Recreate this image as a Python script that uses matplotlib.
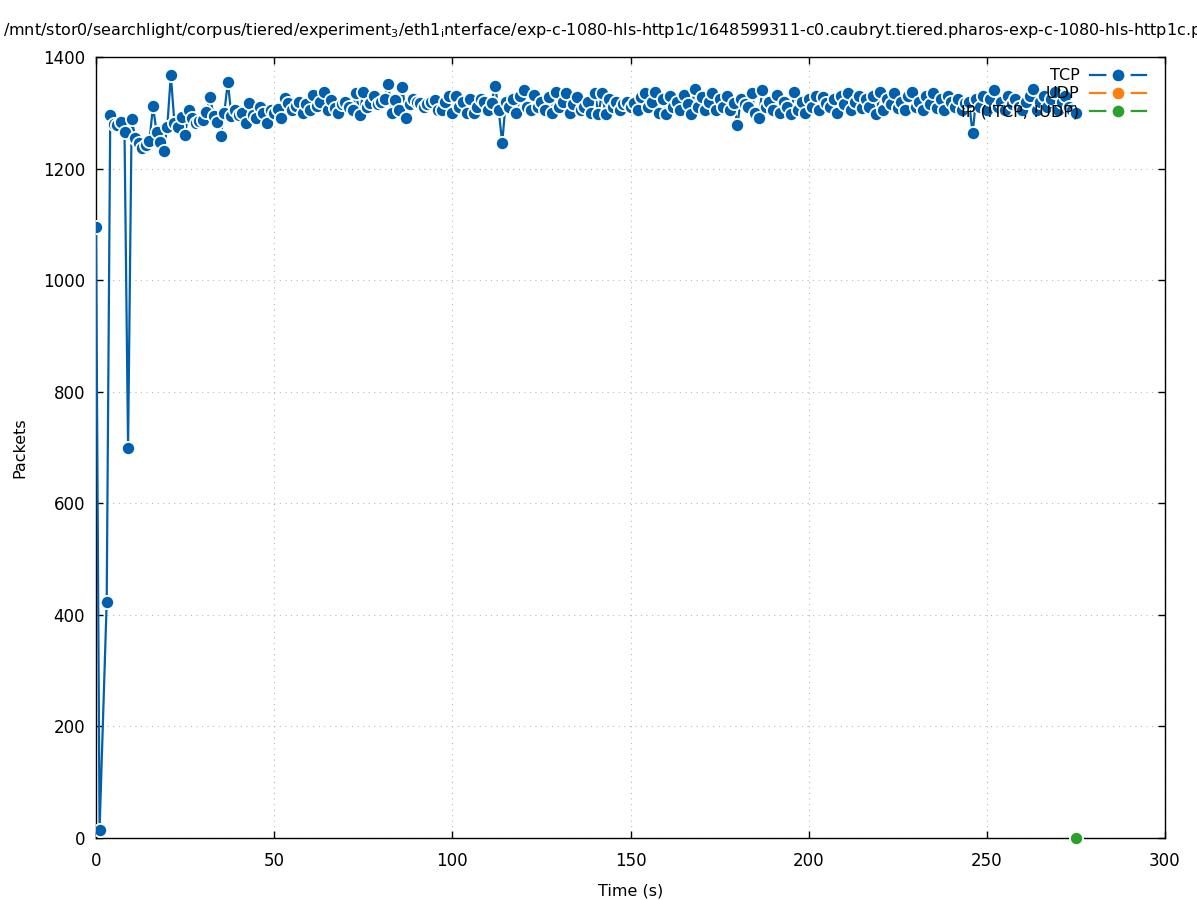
import numpy as np
import matplotlib
matplotlib.use("Agg")
import matplotlib.pyplot as plt

title = ("/mnt/stor0/searchlight/corpus/tiered/experiment$_3$/eth1$_\\mathrm{i}$nterface/"
         "exp-c-1080-hls-http1c/1648599311-c0.caubryt.tiered.pharos-exp-c-1080-hls-http1c.pcap")

# TCP packets per second
tcp_head_times = [0, 1]
tcp_head_values = [1095, 15]
tcp_start = 3  # following samples are one per second from t=3
tcp_values = [
    423, 1296, 1280, 1278, 1283, 1265, 700, 1289, 1255, 1245,
    1237, 1242, 1250, 1312, 1265, 1248, 1231, 1275, 1368, 1282,
    1274, 1292, 1260, 1305, 1290, 1282, 1285, 1287, 1301, 1328,
    1295, 1283, 1258, 1300, 1355, 1295, 1305, 1296, 1300, 1282,
    1317, 1296, 1290, 1310, 1300, 1281, 1305, 1299, 1307, 1291,
    1326, 1318, 1305, 1312, 1319, 1300, 1315, 1305, 1332, 1312,
    1320, 1337, 1305, 1323, 1308, 1300, 1315, 1320, 1310, 1305,
    1335, 1296, 1338, 1310, 1318, 1330, 1315, 1320, 1325, 1351,
    1300, 1323, 1305, 1346, 1291, 1315, 1325, 1320, 1318, 1310,
    1315, 1320, 1323, 1305, 1305, 1320, 1330, 1299, 1330, 1310,
    1320, 1300, 1325, 1299, 1310, 1325, 1320, 1305, 1318, 1348,
    1305, 1246, 1320, 1310, 1325, 1299, 1330, 1341, 1310, 1305,
    1332, 1310, 1320, 1305, 1328, 1300, 1337, 1310, 1320, 1335,
    1300, 1315, 1328, 1305, 1310, 1320, 1300, 1335, 1298, 1335,
    1298, 1325, 1310, 1320, 1305, 1315, 1320, 1310, 1318, 1305,
    1328, 1335, 1310, 1320, 1337, 1300, 1325, 1298, 1330, 1310,
    1320, 1305, 1332, 1315, 1298, 1342, 1310, 1328, 1305, 1320,
    1335, 1305, 1325, 1310, 1330, 1305, 1318, 1278, 1325, 1315,
    1310, 1335, 1300, 1290, 1341, 1310, 1320, 1305, 1332, 1300,
    1320, 1310, 1298, 1337, 1305, 1320, 1300, 1325, 1310, 1330,
    1305, 1328, 1318, 1310, 1325, 1300, 1330, 1315, 1335, 1305,
    1320, 1330, 1308, 1325, 1310, 1330, 1298, 1338, 1305, 1325,
    1315, 1335, 1308, 1320, 1305, 1330, 1338, 1310, 1320, 1305,
    1330, 1315, 1335, 1308, 1325, 1305, 1330, 1320, 1310, 1325,
    1305, 1318, 1320, 1263, 1325, 1310, 1330, 1305, 1325, 1341,
    1310, 1320, 1305, 1330, 1315, 1325, 1310, 1305, 1320, 1330,
    1342, 1305, 1320, 1330, 1310, 1325, 1338, 1305, 1320, 1330,
    1310, 1305, 1299,
]
tcp_times = tcp_head_times + list(range(tcp_start, tcp_start + len(tcp_values)))
tcp_all = tcp_head_values + tcp_values

udp_times = []
udp_values = []

ip_times = [275]
ip_values = [0]

xticks = [0, 50, 100, 150, 200, 250, 300]
yticks = [0, 200, 400, 600, 800, 1000, 1200, 1400]

fig = plt.figure(figsize=(11.97, 9.0), dpi=100)
ax = fig.add_axes([96/1197, 1 - 838/900, (1165-96)/1197, (838-57)/900])

mk = dict(marker='o', markersize=9.5, markeredgecolor='white', markeredgewidth=1.3, linewidth=1.6)
ax.plot(tcp_times, tcp_all, color='#0060ad', label='TCP', zorder=3, **mk)
ax.plot(udp_times, udp_values, color='#ff7f0e', label='UDP', zorder=3, **mk)
ax.plot(ip_times, ip_values, color='#2ca02c', label='IP (!TCP, !UDP)', zorder=4, clip_on=False, **mk)

ax.set_xlim(0, 300)
ax.set_ylim(0, 1400)
ax.set_xticks(xticks)
ax.set_yticks(yticks)
ax.tick_params(direction='in', length=5, width=1, top=True, right=True, labelsize=12)
ax.tick_params(axis='x', pad=10)
ax.tick_params(axis='y', pad=8)
ax.grid(True, linestyle=(0, (1, 4)), color='#bbbbbb', linewidth=0.8)
for s in ax.spines.values():
    s.set_linewidth(1.0)
    s.set_color('black')

ax.set_xlabel('Time (s)', fontsize=11.5, labelpad=10)
ax.set_ylabel('Packets', fontsize=11.5, labelpad=11)

leg = ax.legend(loc='upper right', frameon=False, markerfirst=False, handlelength=3.5,
                fontsize=11.5, labelspacing=0.2, borderaxespad=0.3, handletextpad=0.7,
                bbox_to_anchor=(0.993, 1.0))
for h in leg.legend_handles:
    h.set_markersize(13)
    h.set_markeredgewidth(4.5)

fig.text(3/1197, 1 - 30/900, title, ha='left', va='center', fontsize=11.5)

fig.savefig('out.png', dpi=100)
